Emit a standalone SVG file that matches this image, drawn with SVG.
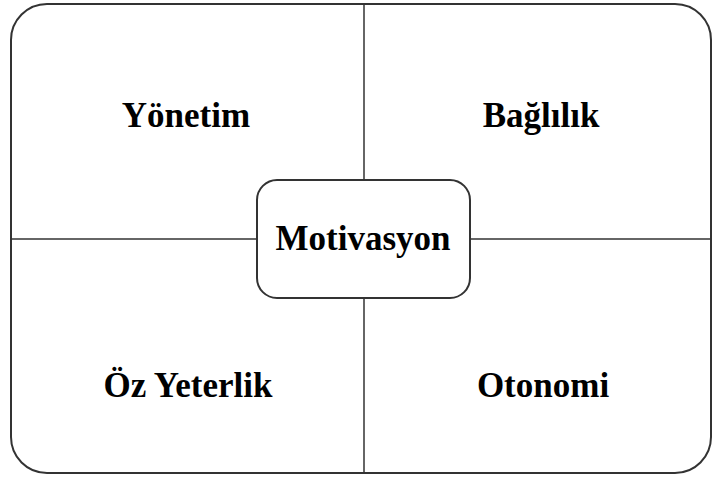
<svg xmlns="http://www.w3.org/2000/svg" width="712" height="479" viewBox="0 0 712 479">
  <style>
    .frame { fill: #ffffff; stroke: #333333; stroke-width: 2; }
    .divider { stroke: #333333; stroke-width: 1.5; fill: none; }
    .label { font-family: "Liberation Serif", "Times New Roman", serif; font-weight: bold; font-size: 35px; fill: #000000; text-anchor: middle; }
  </style>
  <rect width="712" height="479" fill="#ffffff"/>
  <!-- outer rounded frame -->
  <rect id="frame" class="frame" x="11" y="4" width="700" height="469" rx="36" ry="36"/>
  <!-- quadrant dividers -->
  <g id="connectors">
    <line class="divider" x1="364" y1="4" x2="364" y2="180"/>
    <line class="divider" x1="364" y1="298" x2="364" y2="473"/>
    <line class="divider" x1="11" y1="239" x2="257" y2="239"/>
    <line class="divider" x1="470" y1="239" x2="711" y2="239"/>
  </g>
  <g id="yonetim">
    <text class="label" x="186" y="127">Yönetim</text>
  </g>
  <g id="baglilik">
    <text class="label" x="541" y="127">Bağlılık</text>
  </g>
  <g id="oz-yeterlik">
    <text class="label" x="188" y="397">Öz Yeterlik</text>
  </g>
  <g id="otonomi">
    <text class="label" x="543" y="397">Otonomi</text>
  </g>
  <g id="motivasyon">
    <rect class="frame" x="257" y="180" width="213" height="118" rx="20" ry="20"/>
    <text class="label" x="363" y="250">Motivasyon</text>
  </g>
</svg>
